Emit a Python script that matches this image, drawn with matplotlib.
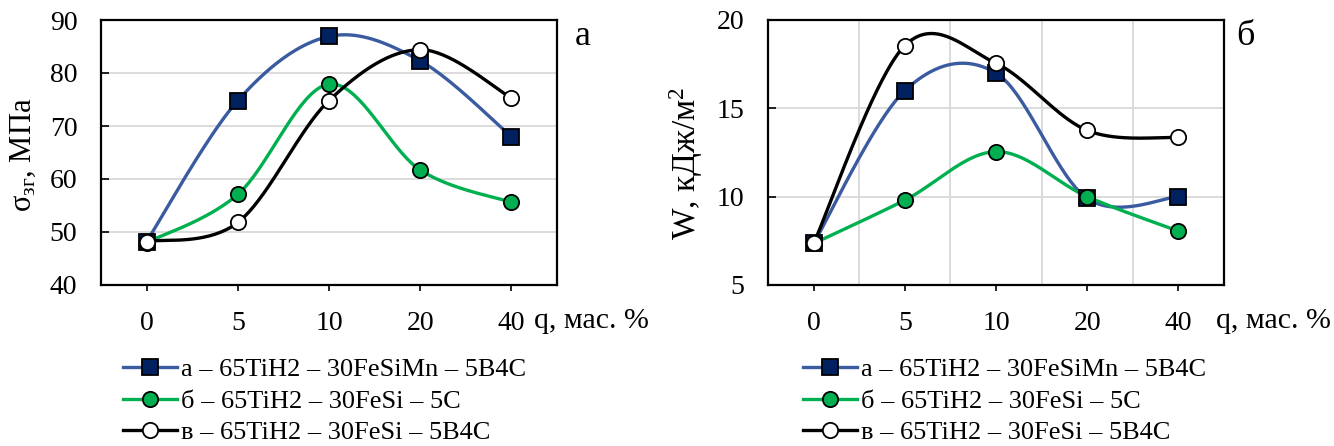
import numpy as np
import matplotlib
matplotlib.use("Agg")
import matplotlib.pyplot as plt
from matplotlib.lines import Line2D

plt.rcParams['font.family'] = ['Liberation Serif', 'DejaVu Serif']
plt.rcParams['mathtext.fontset'] = 'custom'
plt.rcParams['mathtext.rm'] = 'Liberation Serif'
plt.rcParams['mathtext.it'] = 'Liberation Serif:italic'

categories = ["0", "5", "10", "20", "40"]
labels = ["а – 65TiH2 – 30FeSiMn – 5B4C",
          "б – 65TiH2 – 30FeSi – 5C",
          "в – 65TiH2 – 30FeSi – 5B4C"]

sigma_a = [48.2, 74.8, 86.9, 82.3, 68.0]
sigma_b = [48.0, 57.1, 77.9, 61.7, 55.6]
sigma_v = [48.2, 51.8, 74.8, 84.4, 75.3]

w_a = [7.35, 16.0, 17.0, 9.9, 10.0]
w_b = [7.35, 9.8, 12.55, 10.0, 8.05]
w_v = [7.35, 18.55, 17.55, 13.75, 13.35]

styles = [
    dict(color='#3A5BA0', marker='s', mfc='#002060', mec='black'),
    dict(color='#00B050', marker='o', mfc='#00B050', mec='black'),
    dict(color='black', marker='o', mfc='white', mec='black'),
]


def smooth(xs, ys, n=40):
    # Excel-like smoothed line (Catmull-Rom Bezier)
    pts = np.column_stack([xs, ys]).astype(float)
    ext = np.vstack([pts[0], pts, pts[-1]])
    out = []
    for i in range(len(pts) - 1):
        p0, p1, p2, p3 = ext[i], ext[i + 1], ext[i + 2], ext[i + 3]
        c1 = p1 + (p2 - p0) / 6.0
        c2 = p2 - (p3 - p1) / 6.0
        t = np.linspace(0, 1, n)[:, None]
        seg = ((1 - t) ** 3) * p1 + 3 * ((1 - t) ** 2) * t * c1 + 3 * (1 - t) * t ** 2 * c2 + t ** 3 * p2
        out.append(seg if i == 0 else seg[1:])
    s = np.vstack(out)
    return s[:, 0], s[:, 1]


W, H = 1334, 446
fig = plt.figure(figsize=(W / 100, H / 100), dpi=100)
ax1 = fig.add_axes([101 / W, 1 - 285 / H, 456 / W, 265 / H])
ax2 = fig.add_axes([768 / W, 1 - 285 / H, 456 / W, 265 / H])

x = np.arange(len(categories))
MS = 11
LW = 2.4
TICK_FS = 20


def draw(ax, series):
    for ys, st in zip(series, styles):
        sx, sy = smooth(x, ys)
        ax.plot(sx, sy, color=st['color'], lw=LW, solid_capstyle='round', zorder=3)
        ax.plot(x, ys, ls='none', marker=st['marker'], ms=MS, mfc=st['mfc'],
                mec=st['mec'], mew=1.3, zorder=4)
    ax.set_xlim(-0.5, 4.5)
    ax.set_xticks(x)
    ax.set_xticklabels(categories)
    for sp in ax.spines.values():
        sp.set_linewidth(1.6)
    ax.tick_params(axis='x', direction='out', length=4, width=1.2, pad=14.5, labelsize=TICK_FS)
    ax.tick_params(axis='y', direction='in', length=6, width=1.2, pad=17, labelsize=TICK_FS)
    ax.grid(axis='y', color='#D9D9D9', lw=1.3, zorder=0)
    ax.set_axisbelow(True)


draw(ax1, [sigma_a, sigma_b, sigma_v])
ax1.set_ylim(40, 90)
ax1.set_yticks([40, 50, 60, 70, 80, 90])

draw(ax2, [w_a, w_b, w_v])
ax2.set_ylim(5, 20)
ax2.set_yticks([5, 10, 15, 20])
ax2.set_xticks([0.5, 1.5, 2.5, 3.5], minor=True)
ax2.tick_params(axis='x', which='minor', length=0)
ax2.grid(axis='x', which='minor', color='#D9D9D9', lw=1.3, zorder=0)

fig.text(23 / W, 1 - 155 / H, "σ$_{\\mathrm{зг}}$, МПа", rotation=90,
         ha='center', va='center', fontsize=22)
fig.text(686 / W, 1 - 163 / H, "W, кДж/м$^{2}$", rotation=90,
         ha='center', va='center', fontsize=24)

fig.text(583 / W, 1 - 45 / H, "а", ha='center', va='baseline', fontsize=26)
fig.text(1245 / W, 1 - 45 / H, "б", ha='center', va='baseline', fontsize=26)

fig.text(534 / W, 1 - 321 / H, "q, мас. %", ha='left', va='center', fontsize=21.5)
fig.text(1216 / W, 1 - 321 / H, "q, мас. %", ha='left', va='center', fontsize=21.5)

handles = [Line2D([], [], color=st['color'], lw=LW, marker=st['marker'], ms=MS,
                  mfc=st['mfc'], mec=st['mec'], mew=1.3) for st in styles]
for lx in (123, 803):
    fig.legend(handles, labels, loc='upper left',
               bbox_to_anchor=(lx / W, 1 - 358 / H), frameon=False,
               fontsize=19, handlelength=2.05, handletextpad=0.15,
               labelspacing=0.3, borderpad=0, borderaxespad=0)

fig.savefig("out.png", dpi=100)
